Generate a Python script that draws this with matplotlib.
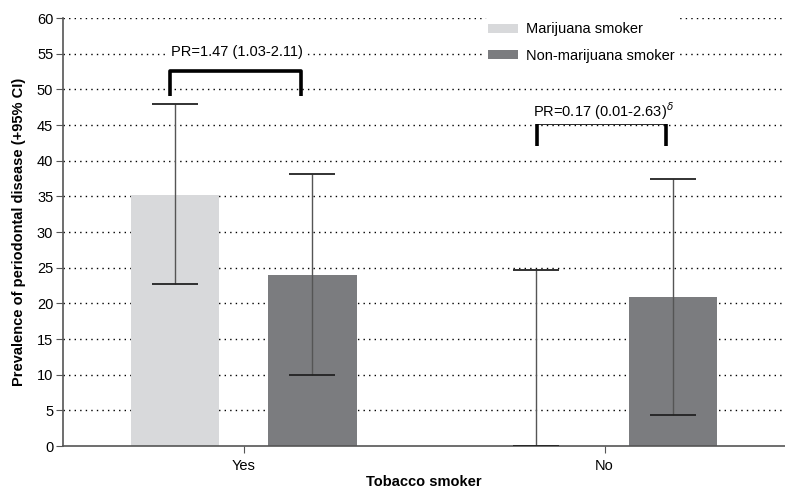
import matplotlib
matplotlib.use("Agg")
import matplotlib.pyplot as plt
import numpy as np

plt.rcParams['font.family'] = ['Liberation Sans', 'DejaVu Sans']

categories = ["Yes", "No"]
series = ["Marijuana smoker", "Non-marijuana smoker"]
prev_mj = [35.2, 0.0]
lo_mj = [22.7, 0.0]
hi_mj = [47.9, 24.7]
prev_non = [24.0, 20.9]
lo_non = [9.9, 4.4]
hi_non = [38.1, 37.4]
pr_labels = ["PR=1.47 (1.03-2.11)", r"PR=0.17 (0.01-2.63)$^{\delta}$"]

fig = plt.figure(figsize=(7.85, 4.88), dpi=100)
ax = fig.add_axes([0.0803, 0.086, 0.9197, 0.877])

x = np.arange(len(categories))
w = 0.246
off = 0.19
c_light = "#d8d9db"
c_dark = "#7b7c7f"

ax.bar(x - off, prev_mj, w, color=c_light, label=series[0], zorder=2)
ax.bar(x + off, prev_non, w, color=c_dark, label=series[1], zorder=2)

for xs, v, lo, hi in [(x - off, prev_mj, lo_mj, hi_mj), (x + off, prev_non, lo_non, hi_non)]:
    v = np.array(v); lo = np.array(lo); hi = np.array(hi)
    ax.errorbar(xs, v, yerr=[v - lo, hi - v], fmt='none', ecolor="#555555",
                elinewidth=1.0, capsize=0, zorder=3)
    ax.hlines(lo, xs - 0.064, xs + 0.064, color="#222222", lw=1.3, zorder=4)
    ax.hlines(hi, xs - 0.064, xs + 0.064, color="#222222", lw=1.3, zorder=4)

# brackets
brackets = [(-0.204, 0.160, 49.1, 52.6, 55.3), (0.812, 1.171, 42.1, 45.3, 47.0)]
for (x0, x1, yb, yt, yt_txt), lab in zip(brackets, pr_labels):
    ax.plot([x0, x0, x1, x1], [yb, yt, yt, yb], color="black", lw=2.6,
            solid_joinstyle='round', solid_capstyle='butt', zorder=5)
    ax.text((x0 + x1) / 2 + 0.005, yt_txt, lab, ha='center', va='center', fontsize=10.5,
            zorder=6, bbox=dict(facecolor='white', edgecolor='none', pad=1.5))

ax.set_xlim(-0.5, 1.5)
ax.set_ylim(0, 60)
ax.set_yticks(np.arange(0, 61, 5))
ax.set_xticks(x)
ax.set_xticklabels(categories, fontsize=10.5)
ax.tick_params(axis='y', labelsize=10.5, length=5, color="#555555", pad=2)
ax.tick_params(axis='x', length=5, color="#555555", pad=4)

for y in np.arange(5, 61, 5):
    ax.axhline(y, color="black", lw=1.0, ls=(0, (1, 3)), zorder=1)

for s in ["top", "right"]:
    ax.spines[s].set_visible(False)
for s in ["left", "bottom"]:
    ax.spines[s].set_color("#555555")
    ax.spines[s].set_linewidth(1.2)

ax.set_xlabel("Tobacco smoker", fontsize=10.5, fontweight='bold', labelpad=2)
ax.set_ylabel("Prevalence of periodontal disease (+95% CI)", fontsize=10.5,
              fontweight='bold', labelpad=8)

leg = ax.legend(loc='upper left', bbox_to_anchor=(0.573, 1.017), frameon=True,
                fontsize=10.5, handlelength=2.0, handleheight=0.6, labelspacing=0.85,
                borderpad=0.3, handletextpad=0.6)
leg.get_frame().set_facecolor('white')
leg.get_frame().set_edgecolor('none')
leg.get_frame().set_alpha(1.0)
leg.set_zorder(7)

fig.savefig("out.png", dpi=100)
